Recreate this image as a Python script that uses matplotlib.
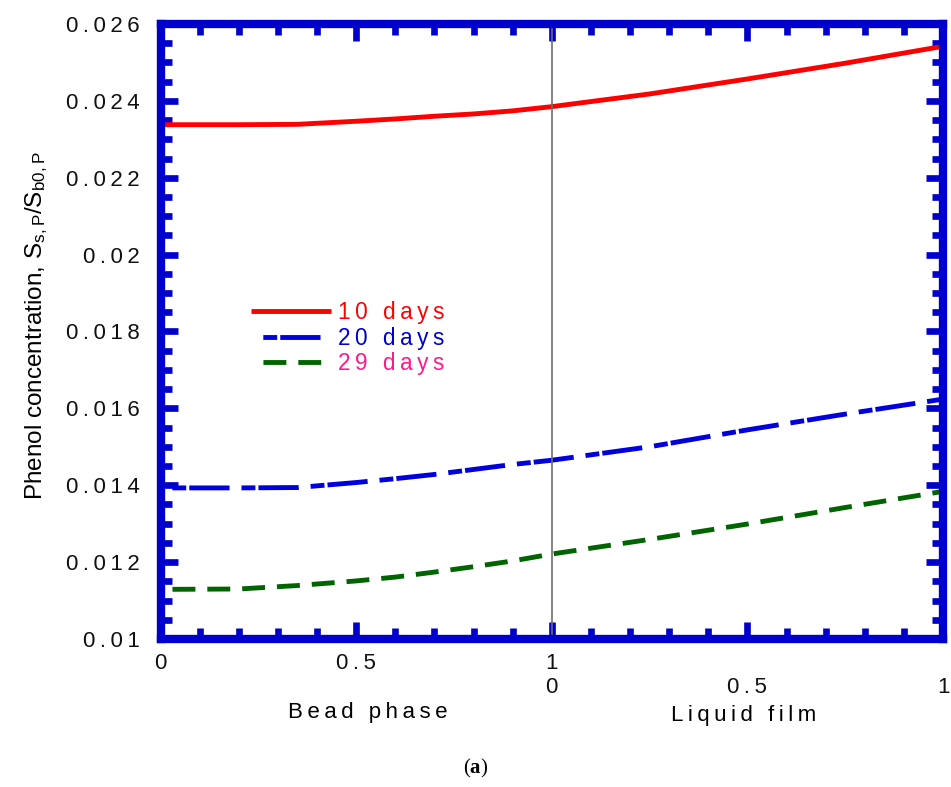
import numpy as np
import matplotlib
matplotlib.use('Agg')
import matplotlib.pyplot as plt
from matplotlib.ticker import FixedLocator, MultipleLocator

plt.rcParams['font.family'] = ['Liberation Sans', 'DejaVu Sans']
plt.rcParams['mathtext.fontset'] = 'custom'
plt.rcParams['mathtext.rm'] = 'Liberation Sans'
plt.rcParams['mathtext.bf'] = 'Liberation Serif:bold'
plt.rcParams['mathtext.default'] = 'regular'
plt.rcParams['lines.scale_dashes'] = False

# dimensionless position inside each phase (bead 0..1, then film 0..1)
bead_pos = [0.0, 0.2, 0.35, 0.5, 0.6, 0.7, 0.8, 0.9, 1.0]
film_pos = [0.0, 0.25, 0.5, 0.75, 1.0]

# phenol concentration S_s,P / S_b0,P
c10_bead = [0.02338, 0.02338, 0.02339, 0.02347, 0.02353, 0.02360, 0.02366, 0.02374, 0.02385]
c10_film = [0.02385, 0.02418, 0.02457, 0.02498, 0.02542]
c20_bead = [0.01393, 0.01393, 0.01394, 0.01407, 0.01417, 0.01428, 0.01441, 0.01454, 0.01465]
c20_film = [0.01465, 0.01500, 0.01544, 0.01585, 0.01624]
c29_bead = [0.01129, 0.01130, 0.01139, 0.01151, 0.01161, 0.01174, 0.01188, 0.01203, 0.01221]
c29_film = [0.01221, 0.01259, 0.01299, 0.01342, 0.01384]

series_labels = ['10 days', '20 days', '29 days']

x_major = [0, 0.5, 1, 1.5, 2]
x_ticklabels = ['0', '0.5', '1\n0', '\n0.5', '\n1']
y_major = [0.010, 0.012, 0.014, 0.016, 0.018, 0.020, 0.022, 0.024, 0.026]
y_ticklabels = ['0.01', '0.012', '0.014', '0.016', '0.018', '0.02', '0.022', '0.024', '0.026']

FRAME = '#0000cc'


def spaced(s):
    # widen the tracking a little, line by line
    return '\n'.join('\u2009'.join(line) for line in s.split('\n'))


# film coordinates are shifted by one so both phases share one axis
x = np.concatenate([bead_pos, np.array(film_pos[1:]) + 1.0])
c10 = np.concatenate([c10_bead, c10_film[1:]])
c20 = np.concatenate([c20_bead, c20_film[1:]])
c29 = np.concatenate([c29_bead, c29_film[1:]])

fig = plt.figure(figsize=(9.51, 7.87), dpi=100)
ax = fig.add_axes([0.1688, 0.1881, 0.8228, 0.7814])

lw = 3.5
ax.plot(x, c10, color='#ff0000', lw=lw, solid_capstyle='butt', label=spaced(series_labels[0]))
ax.plot(x, c20, color='#0000dd', lw=lw, dash_capstyle='butt',
        linestyle=(41.3, (10, 2.2, 29, 8.6)), label=spaced(series_labels[1]))
ax.plot(x, c29, color='#006400', lw=lw, dash_capstyle='butt',
        linestyle=(16.5, (16.5, 8.6)), label=spaced(series_labels[2]))

# bead / film boundary
ax.axvline(1.0, color='#6e6e6e', lw=1.2, zorder=3)

ax.set_xlim(0, 2)
ax.set_ylim(0.010, 0.026)

ax.xaxis.set_major_locator(FixedLocator(x_major))
ax.xaxis.set_minor_locator(MultipleLocator(0.1))
ax.set_xticklabels([spaced(t) for t in x_ticklabels], linespacing=1.2)
ax.yaxis.set_major_locator(FixedLocator(y_major))
ax.yaxis.set_minor_locator(MultipleLocator(0.0005))
ax.set_yticklabels([spaced(t) for t in y_ticklabels])

ax.tick_params(which='both', direction='in', top=True, right=True,
               color=FRAME, width=4.8, labelsize=16, labelcolor='#111111')
ax.tick_params(which='major', length=12.5)
ax.tick_params(which='minor', length=8)
ax.tick_params(axis='y', pad=15)
ax.tick_params(axis='x', pad=10)

for spine in ax.spines.values():
    spine.set_edgecolor(FRAME)
    spine.set_linewidth(6)
    spine.set_capstyle('projecting')
    spine.set_zorder(4)

ax.set_ylabel(r'Phenol concentration, S$_{s,P}$/S$_{b0,P}$', fontsize=17.5)
ax.yaxis.set_label_coords(-0.141, 0.51)

xt = ax.get_xaxis_transform()
ax.text(0.53, -0.119, spaced('Bead phase'), transform=xt, ha='center', va='center', fontsize=16)
ax.text(1.49, -0.124, spaced('Liquid film'), transform=xt, ha='center', va='center', fontsize=16)

leg = ax.legend(loc='upper left', bbox_to_anchor=(0.1157, 0.549), frameon=False,
                fontsize=16.3, handlelength=3.55, handletextpad=0.27,
                labelspacing=0.1, borderpad=0, borderaxespad=0,
                labelcolor=['#ff0000', '#0000cc', '#ff1a8c'])

fig.text(0.5, 1 - 768 / 787, r'($\mathbf{a}$)', ha='center', va='center',
         fontsize=15, family='Liberation Serif')

fig.savefig('out.png', dpi=100)
